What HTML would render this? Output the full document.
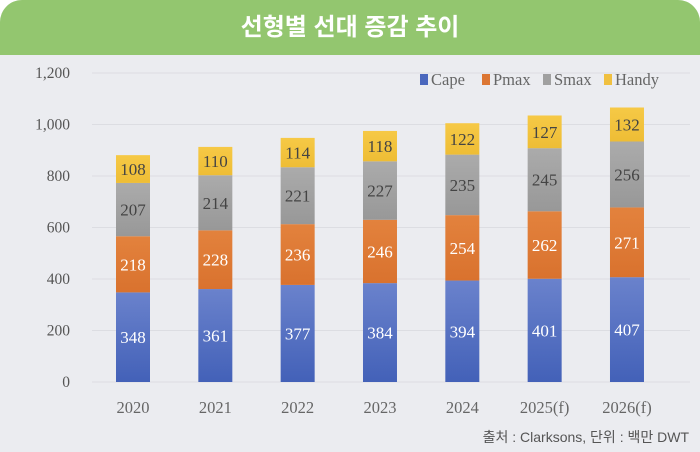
<!DOCTYPE html>
<html><head><meta charset="utf-8"><style>
html,body{margin:0;padding:0;background:#fff;}
#c{position:relative;width:700px;height:452px;background:#ebecf0;border-radius:22px 22px 0 0;overflow:hidden;}
#h{position:absolute;left:0;top:0;width:700px;height:55px;background:#93c66f;color:#fff;text-align:center;font:bold 24px/55px "Liberation Sans","Noto Sans CJK KR",sans-serif;}
svg{position:absolute;left:0;top:0;}
</style></head><body><div id="c"><div id="h">선형별 선대 증감 추이</div>
<svg id="s" width="700" height="452" xmlns="http://www.w3.org/2000/svg" font-family="Liberation Serif, serif">
<defs>
<linearGradient id="gb" x1="0" y1="0" x2="0" y2="1"><stop offset="0" stop-color="#6a82cc"/><stop offset="1" stop-color="#4361b8"/></linearGradient>
<linearGradient id="go" x1="0" y1="0" x2="0" y2="1"><stop offset="0" stop-color="#e3823d"/><stop offset="1" stop-color="#d9722e"/></linearGradient>
<linearGradient id="gg" x1="0" y1="0" x2="0" y2="1"><stop offset="0" stop-color="#ababab"/><stop offset="1" stop-color="#989898"/></linearGradient>
<linearGradient id="gy" x1="0" y1="0" x2="0" y2="1"><stop offset="0" stop-color="#f6c946"/><stop offset="1" stop-color="#eebd35"/></linearGradient>
</defs>
<g id="g"></g>
<text x="689" y="442" text-anchor="end" font-family="Liberation Sans, Noto Sans CJK KR, sans-serif" font-size="14" fill="#555">출처 : Clarksons, 단위 : 백만 DWT</text>
</svg></div>
<script>
var g=document.getElementById('g'),o='';
var y0=382,k=309/1200;
for(var i=0;i<=6;i++){var y=y0-i*200*k;
o+='<line x1="92" x2="690" y1="'+y+'" y2="'+y+'" stroke="#dcdde2" stroke-width="1"/>';
o+='<text x="70" y="'+(y+5)+'" text-anchor="end" font-size="15.5" fill="#555">'+(i==0?'0':(i*200).toLocaleString('en-US'))+'</text>';}
var d=[[348,218,207,108],[361,228,214,110],[377,236,221,114],[384,246,227,118],[394,254,235,122],[401,262,245,127],[407,271,256,132]];
var yr=['2020','2021','2022','2023','2024','2025(f)','2026(f)'];
var f=['url(#gb)','url(#go)','url(#gg)','url(#gy)'],tc=['#fff','#fff','#444','#444'];
for(var j=0;j<7;j++){var cx=133+j*82.33,b=y0;
for(var s=0;s<4;s++){var h=d[j][s]*k;
o+='<rect x="'+(cx-17)+'" y="'+(b-h)+'" width="34" height="'+h+'" fill="'+f[s]+'"/>';
o+='<text x="'+cx+'" y="'+(b-h/2+6)+'" text-anchor="middle" font-size="17" fill="'+tc[s]+'">'+d[j][s]+'</text>';b-=h;}
o+='<text x="'+cx+'" y="413" text-anchor="middle" font-size="16.5" fill="#666">'+yr[j]+'</text>';}
var L=[['Cape','#4a67bd',420],['Pmax','#dc7633',482],['Smax','#a0a0a0',543],['Handy','#f0c040',604]];
L.forEach(function(l){o+='<rect x="'+l[2]+'" y="74" width="8" height="11" fill="'+l[1]+'"/><text x="'+(l[2]+11)+'" y="85" font-size="16.5" fill="#666">'+l[0]+'</text>';});
g.innerHTML=o;
</script></body></html>
